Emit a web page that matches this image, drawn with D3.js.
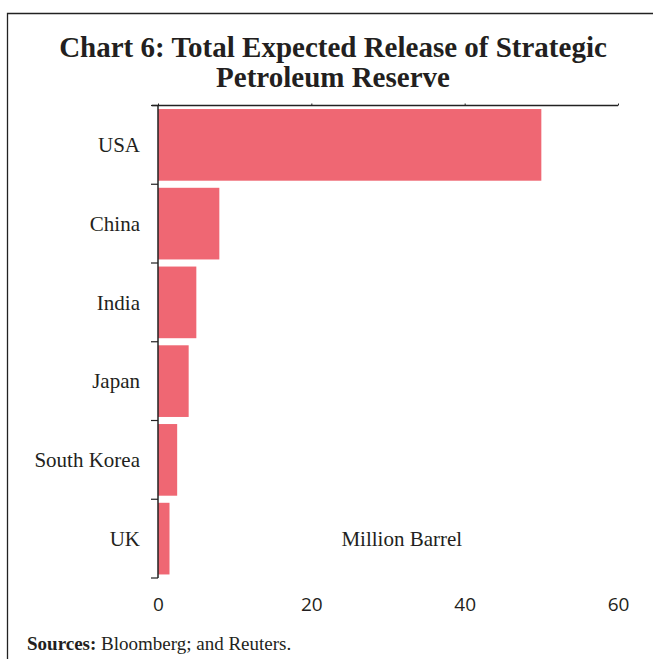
<!DOCTYPE html>
<html>
<head>
<meta charset="utf-8">
<script src="https://cdn.jsdelivr.net/npm/d3@7"></script>
<style>
  html, body { margin: 0; padding: 0; background: #fff; }
  svg { display: block; }
</style>
</head>
<body>
<svg id="chart" width="653" height="659"></svg>
<script>
// Strategic petroleum reserve releases by country (million barrels)
const countries = ["USA", "China", "India", "Japan", "South Korea", "UK"];
const releases = [50, 8, 5, 4, 2.5, 1.5];
const xTicks = [0, 20, 40, 60];

const svg = d3.select("#chart");
const W = 653, H = 659;
const margin = { top: 105.5, left: 158, right: 35, bottom: 81 };
const innerW = W - margin.left - margin.right;
const innerH = H - margin.top - margin.bottom;
const serif = "'Liberation Serif', 'DejaVu Serif', serif";

// panel frame (left and top rules)
svg.append("path")
  .attr("d", `M7.5,${H} V13.5 H${W}`)
  .attr("fill", "none")
  .attr("stroke", "#222")
  .attr("stroke-width", 1.3);

// title
const title = svg.append("text")
  .attr("text-anchor", "middle")
  .attr("font-family", serif)
  .attr("font-weight", "bold")
  .attr("font-size", 29)
  .attr("fill", "#231f20");
title.append("tspan").attr("x", 333).attr("y", 57).text("Chart 6: Total Expected Release of Strategic");
title.append("tspan").attr("x", 333).attr("y", 87).text("Petroleum Reserve");

const x = d3.scaleLinear().domain([0, 60]).range([0, innerW]);
const y = d3.scaleBand().domain(countries).range([0, innerH]).paddingInner(0.09).paddingOuter(0.045);

const g = svg.append("g").attr("transform", `translate(${margin.left},${margin.top})`);

// bars
g.selectAll("rect.bar")
  .data(countries.map((c, i) => ({ c, v: releases[i] })))
  .join("rect")
  .attr("class", "bar")
  .attr("x", 0)
  .attr("y", d => y(d.c))
  .attr("width", d => x(d.v))
  .attr("height", y.bandwidth())
  .attr("fill", "#ef6773");

// top axis: line with short tick marks
const topAxis = g.append("g")
  .call(d3.axisTop(x).tickValues(xTicks).tickSize(2).tickSizeOuter(0).tickFormat(""));
topAxis.select(".domain").attr("stroke", "#222").attr("stroke-width", 1.3)
  .attr("d", `M-6,0H${innerW}`);
topAxis.selectAll(".tick line").attr("stroke", "#222");

// bottom tick labels (no rule)
const bottomAxis = g.append("g")
  .attr("transform", `translate(0,${innerH})`)
  .call(d3.axisBottom(x).tickValues(xTicks).tickSize(0).tickPadding(20));
bottomAxis.select(".domain").remove();
bottomAxis.selectAll("text")
  .attr("font-family", "'Open Sans', 'Noto Sans', sans-serif")
  .attr("font-size", 19)
  .attr("fill", "#231f20");

// category axis: ticks at band boundaries
const boundaries = d3.range(countries.length + 1).map(i => i * innerH / countries.length);
const leftAxis = g.append("g");
leftAxis.append("line")
  .attr("x1", 0).attr("x2", 0).attr("y1", 0).attr("y2", innerH)
  .attr("stroke", "#222").attr("stroke-width", 1.5);
leftAxis.selectAll("line.tk")
  .data(boundaries)
  .join("line")
  .attr("class", "tk")
  .attr("x1", -7).attr("x2", 0)
  .attr("y1", d => d).attr("y2", d => d)
  .attr("stroke", "#222").attr("stroke-width", 1.2);
leftAxis.selectAll("text")
  .data(countries)
  .join("text")
  .attr("x", -18)
  .attr("y", d => y(d) + y.bandwidth() / 2)
  .attr("dy", "0.35em")
  .attr("text-anchor", "end")
  .attr("font-family", serif)
  .attr("font-size", 21)
  .attr("fill", "#231f20")
  .text(d => d);

// unit label
g.append("text")
  .attr("x", x(31.8))
  .attr("y", y("UK") + y.bandwidth() / 2)
  .attr("dy", "0.35em")
  .attr("text-anchor", "middle")
  .attr("font-family", serif)
  .attr("font-size", 21)
  .attr("fill", "#231f20")
  .text("Million Barrel");

// source note
const src = svg.append("text")
  .attr("x", 27)
  .attr("y", 650)
  .attr("font-family", serif)
  .attr("font-size", 19)
  .attr("fill", "#231f20");
src.append("tspan").attr("font-weight", "bold").text("Sources:");
src.append("tspan").text(" Bloomberg; and Reuters.");
</script>
</body>
</html>
